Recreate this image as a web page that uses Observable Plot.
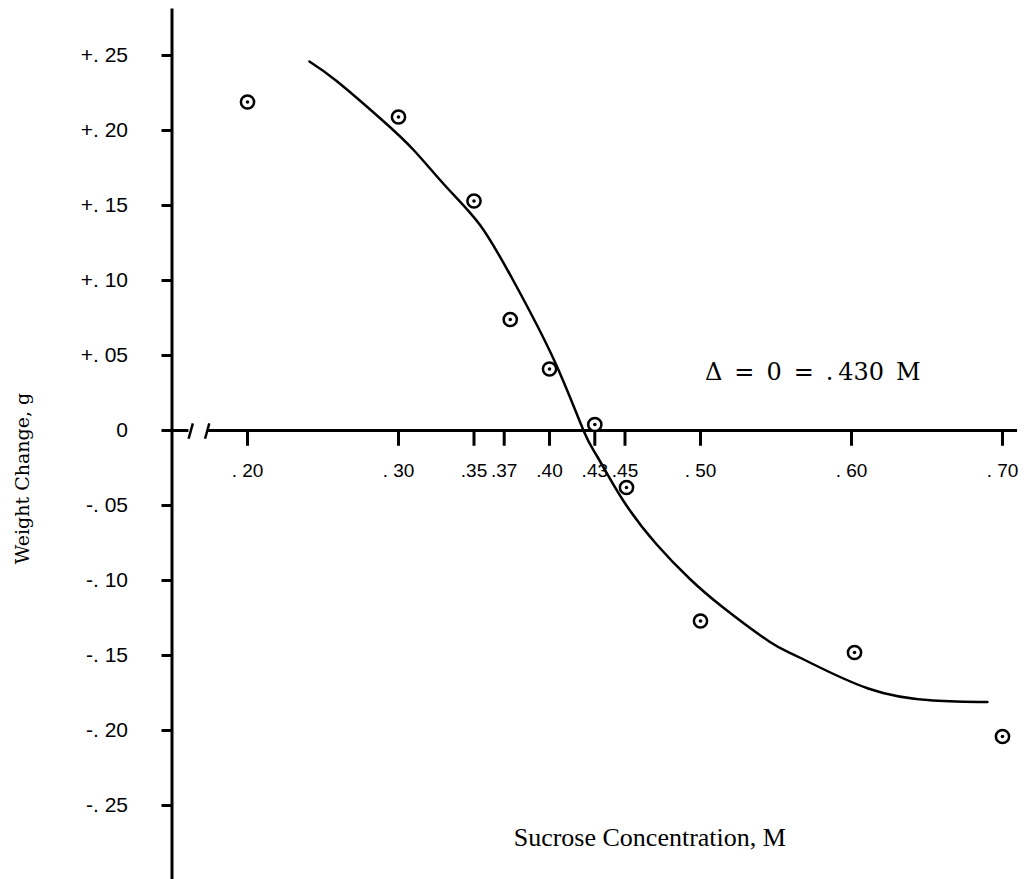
<!DOCTYPE html>
<html>
<head>
<meta charset="utf-8">
<script src="https://cdn.jsdelivr.net/npm/d3@7"></script>
<script src="https://cdn.jsdelivr.net/npm/@observablehq/plot@0.6"></script>
<style>
  html, body { margin: 0; padding: 0; background: #fff; }
  #chart svg { display: block; }
</style>
</head>
<body>
<div id="chart"></div>
<script>
// Observed points: sucrose concentration (M) vs weight change (g)
const concentration = [0.20, 0.30, 0.35, 0.374, 0.40, 0.43, 0.451, 0.50, 0.602, 0.70];
const weightChange  = [0.219, 0.209, 0.153, 0.074, 0.041, 0.004, -0.038, -0.127, -0.148, -0.204];

// Hand-drawn fitted curve
const curveX = [0.241, 0.259, 0.288, 0.310, 0.332, 0.354, 0.376, 0.403, 0.4225, 0.432, 0.449, 0.471, 0.493, 0.515, 0.546, 0.566, 0.611, 0.654, 0.690];
const curveY = [0.246, 0.233, 0.208, 0.187, 0.162, 0.137, 0.100, 0.047, 0.000, -0.018, -0.047, -0.076, -0.099, -0.118, -0.141, -0.1515, -0.172, -0.180, -0.181];

// Axis ticks and labels
const xTicks  = [0.20, 0.30, 0.35, 0.37, 0.40, 0.43, 0.45, 0.50, 0.60, 0.70];
const xLabels = [". 20", ". 30", ".35", ".37", ".40", ".43", ".45", ". 50", ". 60", ". 70"];
const yTicks  = [0.25, 0.20, 0.15, 0.10, 0.05, 0, -0.05, -0.10, -0.15, -0.20, -0.25];
const yLabels = ["+. 25", "+. 20", "+. 15", "+. 10", "+. 05", "0", "-. 05", "-. 10", "-. 15", "-. 20", "-. 25"];

const annotation = "\u0394\u2002=\u20020\u2002=\u2002.\u2009430\u2002M";
const xTitle = "Sucrose Concentration, M";
const yTitle = "Weight Change, g";

const points = concentration.map((x, i) => ({x, y: weightChange[i]}));
const curve = curveX.map((x, i) => ({x, y: curveY[i]}));
// axis break position on the x axis line
const breakMarks = [0.1623, 0.1732].map(c => ({c}));

const sans = "'Liberation Sans', Arial, sans-serif";
const serif = "'DejaVu Serif', serif";

const chart = Plot.plot({
  width: 1030,
  height: 879,
  marginLeft: 171.5,
  marginRight: 12.9,
  marginTop: 10,
  marginBottom: 29,
  x: {domain: [0.15, 0.71], axis: null},
  y: {domain: [-0.28, 0.28], axis: null},
  style: {background: "#fff", color: "#000", fontFamily: sans},
  marks: [
    // y axis line
    Plot.ruleX([0.15], {y1: -0.30, y2: 0.281, stroke: "#000", strokeWidth: 3}),
    // y ticks and labels
    Plot.axisY({
      anchor: "left",
      ticks: yTicks,
      tickSize: 10,
      tickPadding: 34,
      tickFormat: d => yLabels[yTicks.indexOf(d)],
      strokeWidth: 3,
      fontSize: 21,
      label: null
    }),
    // x axis line with a break
    Plot.ruleY([0], {x1: 0.1437, x2: 0.1612, stroke: "#000", strokeWidth: 3}),
    Plot.ruleY([0], {x1: 0.1742, x2: 0.71, stroke: "#000", strokeWidth: 3}),
    Plot.link(breakMarks, {x1: d => d.c - 0.0013, y1: -0.0055, x2: d => d.c + 0.0015, y2: 0.0048, stroke: "#000", strokeWidth: 2.5}),
    // x ticks and labels
    Plot.ruleX(xTicks, {x: d => d, y1: 0, y2: -0.0105, stroke: "#000", strokeWidth: 3}),
    Plot.text(xTicks, {x: d => d, y: 0, dy: 40, text: (d, i) => xLabels[i], fontSize: 19, fontFamily: sans, fill: "#000"}),
    // fitted curve
    Plot.line(curve, {x: "x", y: "y", curve: "natural", stroke: "#000", strokeWidth: 2.5}),
    // observed points: circle with central dot
    Plot.dot(points, {x: "x", y: "y", r: 6.6, stroke: "#000", strokeWidth: 2.5, fill: "#fff"}),
    Plot.dot(points, {x: "x", y: "y", r: 1.8, fill: "#000", stroke: null}),
    // annotation
    Plot.text([annotation], {x: 0.503, y: 0.039, text: d => d, textAnchor: "start", fontSize: 24, fontFamily: serif, fill: "#000"}),
    // axis titles
    Plot.text([xTitle], {frameAnchor: "bottom", dx: 55, dy: -13, lineAnchor: "middle", textAnchor: "middle", text: d => d, fontSize: 26, fontFamily: "'Liberation Serif', serif", fill: "#000"}),
    Plot.text([yTitle], {frameAnchor: "left", dx: -149.5, dy: 48, rotate: -90, textAnchor: "middle", lineAnchor: "middle", text: d => d, fontSize: 19, fontFamily: serif, fill: "#000"})
  ]
});
document.getElementById("chart").appendChild(chart);
</script>
</body>
</html>
